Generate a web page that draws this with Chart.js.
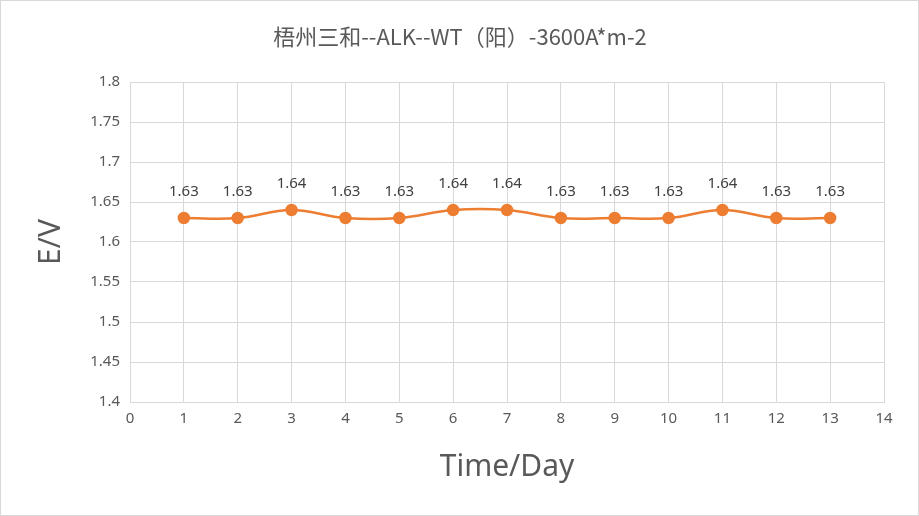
<!DOCTYPE html>
<html><head><meta charset="utf-8">
<script src="https://cdn.jsdelivr.net/npm/chart.js@4"></script>
<style>html,body{margin:0;padding:0;background:#fff}#w{width:917px;height:514px;border:1px solid #d9d9d9}</style>
</head><body><div id="w"><canvas id="c" width="917" height="514"></canvas></div>
<script>
const titleText = "梧州三和--ALK--WT（阳）-3600A*m-2";
const xTitle = "Time/Day";
const yTitle = "E/V";
const days = [1,2,3,4,5,6,7,8,9,10,11,12,13];
const voltages = [1.63,1.63,1.64,1.63,1.63,1.64,1.64,1.63,1.63,1.63,1.64,1.63,1.63];

const textPlugin = {
  id:'txt',
  afterDatasetsDraw(chart){
    const ctx = chart.ctx, a = chart.chartArea;
    ctx.save();
    ctx.fillStyle='#595959';
    ctx.textAlign='center'; ctx.textBaseline='middle';
    ctx.font='22px "Noto Sans CJK SC", "Noto Sans", sans-serif';
    ctx.fillText(titleText, 459, 36);
    ctx.font='30px "Noto Sans", sans-serif';
    ctx.fillText(xTitle, (a.left+a.right)/2, 466);
    ctx.save(); ctx.translate(50,(a.top+a.bottom)/2); ctx.rotate(-Math.PI/2);
    ctx.fillText(yTitle,0,0); ctx.restore();
    ctx.font='15px "Noto Sans", sans-serif'; ctx.fillStyle='#404040';
    const meta = chart.getDatasetMeta(0);
    meta.data.forEach((p,i)=>{ ctx.fillText(voltages[i].toFixed(2), p.x, p.y-26); });
    ctx.restore();
  }
};

new Chart(document.getElementById('c'),{
  type:'line',
  data:{datasets:[{data:days.map((d,i)=>({x:d,y:voltages[i]})),
    borderColor:'#ed7d31',backgroundColor:'#ed7d31',borderWidth:2.5,
    pointRadius:5,pointHoverRadius:5,tension:0.4}]},
  options:{responsive:false,animation:false,devicePixelRatio:1,
    layout:{padding:{top:81,right:34,left:0,bottom:0}},
    plugins:{legend:{display:false},tooltip:{enabled:false}},
    scales:{
      x:{type:'linear',min:0,max:14,ticks:{stepSize:1,color:'#595959',font:{size:15,family:'Noto Sans'},padding:8},
        grid:{color:'#d9d9d9',drawTicks:false},border:{color:'#d9d9d9'},
        afterFit(s){s.height=113;}},
      y:{min:1.4,max:1.8,ticks:{stepSize:0.05,color:'#595959',font:{size:15,family:'Noto Sans'},padding:10,
          callback:v=>String(+v.toFixed(2))},
        grid:{color:'#d9d9d9',drawTicks:false},border:{display:false},
        afterFit(s){s.width=129;}}
    }},
  plugins:[textPlugin]
});
</script>
</body></html>
